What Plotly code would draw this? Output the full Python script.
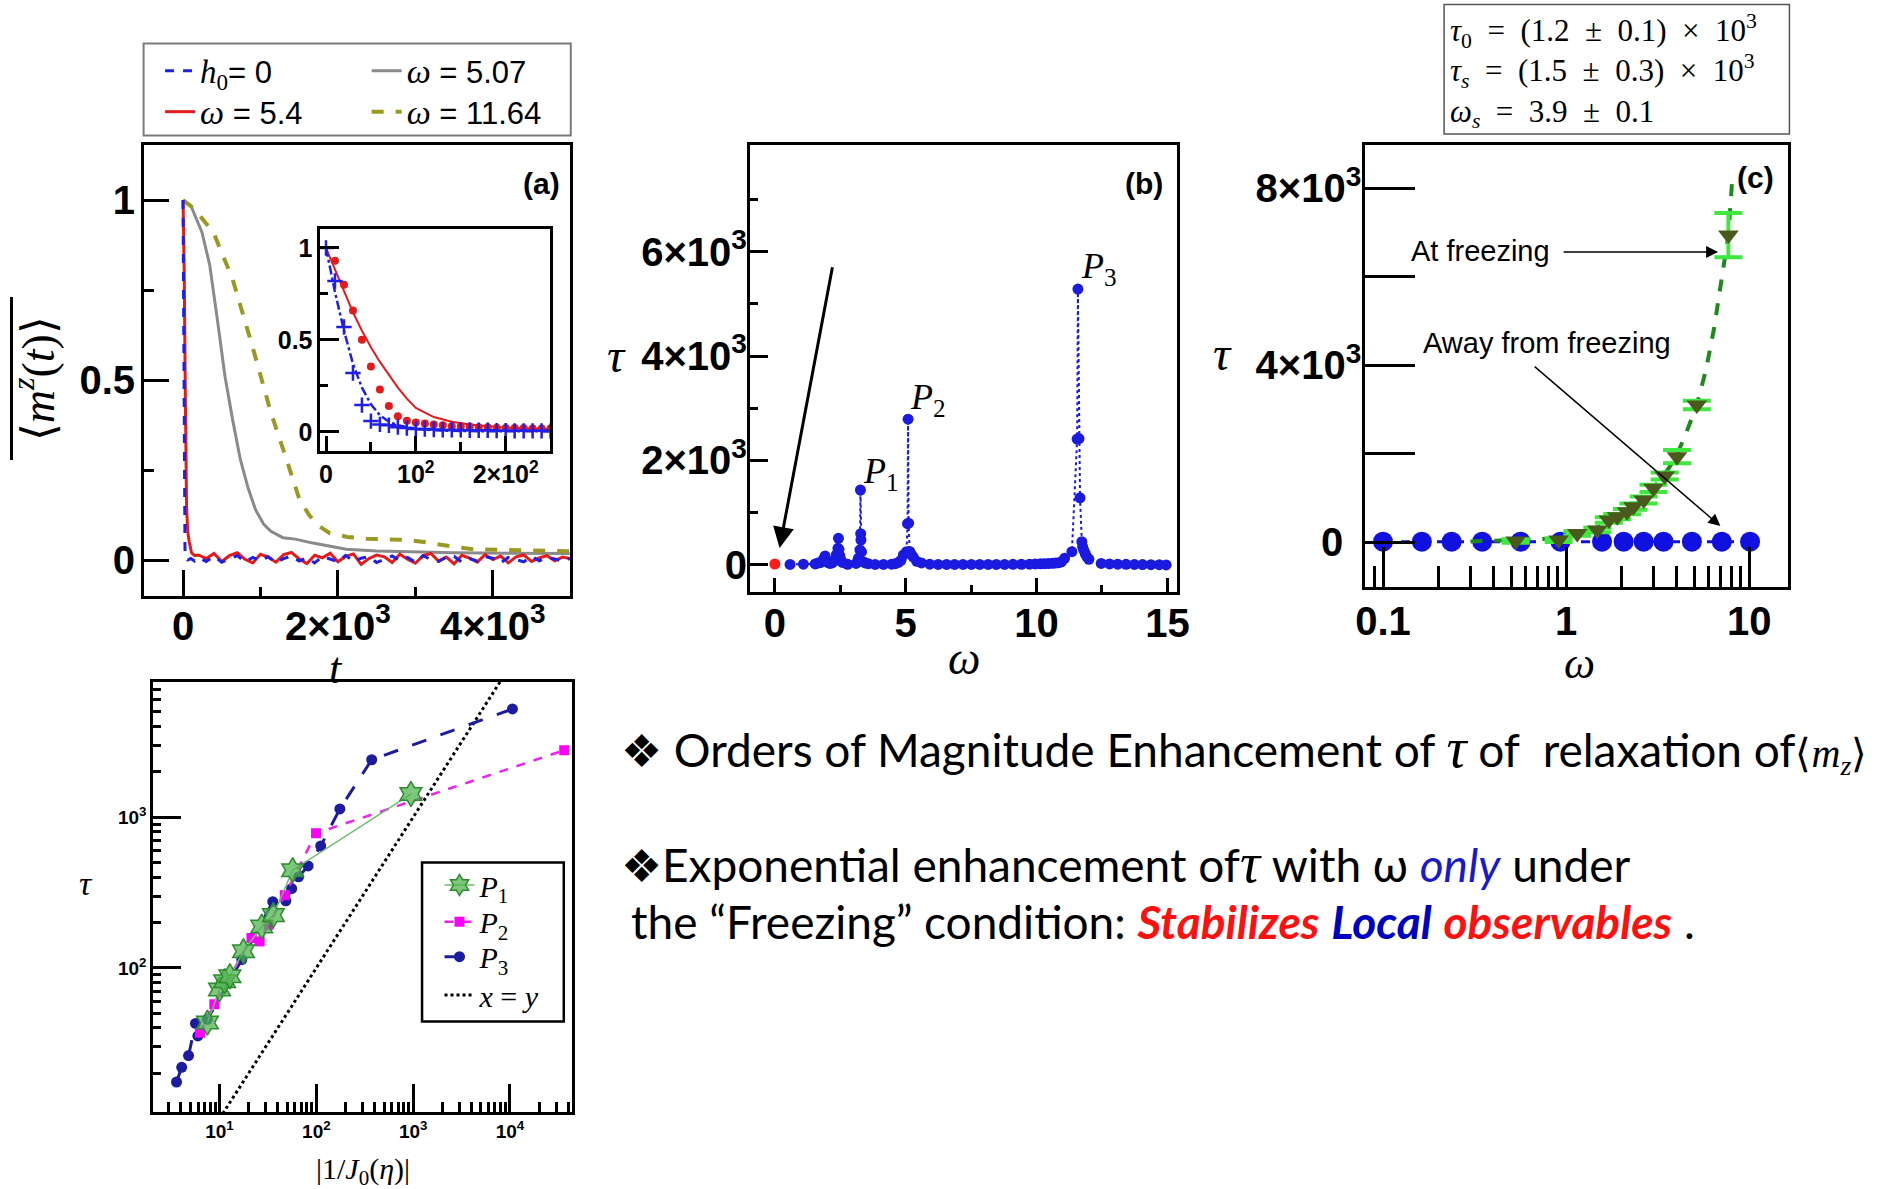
import plotly.graph_objects as go

W, H = 1880, 1189
# horizontal placement correction measured from earlier renders (content lands ~1% narrower, shifted right)
XA, XB = 6.65, 0.9902
def fx(x): return max(0.0, (x - XA) / XB)
def px(x): return fx(x) / W
def py(y): return 1 - y / H
def dx(l, r): return [px(l), px(r)]
def dy(t, b): return [1 - b / H, 1 - t / H]

# ---------------- Panel (a) data ----------------
t_h0 = [0, 8, 16, 25, 40, 60, 100, 150,
        200, 300, 400, 500, 600, 700, 800, 900, 1000, 1100, 1200, 1300, 1400, 1500, 1600, 1700,
        1800, 1900, 2000, 2100, 2200, 2300, 2400, 2500, 2600, 2700, 2800, 2900, 3000, 3100, 3200,
        3300, 3400, 3500, 3600, 3700, 3800, 3900, 4000, 4100, 4200, 4300, 4400, 4500, 4600, 4700,
        4800, 4900, 5000]
m_h0 = [1.0, 0.55, 0.15, 0.03, 0.005, 0.0, 0.004, -0.003,
        0.006, -0.004, 0.010, -0.006, 0.003, 0.012, -0.005, 0.007, -0.002, 0.009, -0.007, 0.004,
        0.011, -0.003, 0.006, -0.008, 0.010, 0.002, -0.005, 0.013, -0.004, 0.005, 0.009, -0.007,
        0.003, 0.011, -0.002, 0.007, -0.006, 0.012, 0.001, -0.004, 0.008, 0.010, -0.006, 0.004,
        -0.003, 0.009, 0.005, -0.008, 0.007, 0.002, -0.005, 0.010, -0.002, 0.006, 0.003, -0.004,
        0.005]
t_w54 = [0, 15, 30, 45, 60, 80, 110, 150,
         200, 300, 400, 500, 600, 700, 800, 900, 1000, 1100, 1200, 1300, 1400, 1500, 1600, 1700,
         1800, 1900, 2000, 2100, 2200, 2300, 2400, 2500, 2600, 2700, 2800, 2900, 3000, 3100, 3200,
         3300, 3400, 3500, 3600, 3700, 3800, 3900, 4000, 4100, 4200, 4300, 4400, 4500, 4600, 4700,
         4800, 4900, 5000]
m_w54 = [1.0, 0.8, 0.45, 0.15, 0.08, 0.05, 0.02, 0.012,
         0.014, 0.004, 0.018, -0.004, 0.012, 0.020, 0.002, -0.008, 0.016, 0.008, -0.006, 0.015,
         0.021, 0.003, -0.010, 0.013, 0.006, 0.019, -0.005, 0.010, 0.017, -0.012, 0.004, 0.014,
         0.009, -0.007, 0.016, 0.002, -0.009, 0.012, 0.018, -0.003, 0.008, -0.011, 0.013, 0.005,
         -0.006, 0.015, 0.001, 0.011, -0.008, 0.009, 0.014, -0.004, 0.006, 0.012, -0.002, 0.008,
         0.004]
t_w507 = [0, 100, 245, 344, 442, 542, 640, 739, 840, 936, 1040, 1134, 1290, 1450, 1677, 1800,
          1935, 2107, 2500, 2881, 3500, 4200, 5000]
m_w507 = [1.0, 0.985, 0.91, 0.82, 0.67, 0.51, 0.39, 0.28, 0.2, 0.14, 0.10, 0.08, 0.062, 0.058,
          0.047, 0.042, 0.037, 0.03, 0.025, 0.023, 0.02, 0.019, 0.018]
t_w1164 = [0, 146, 393, 640, 887, 1134, 1381, 1500, 1628, 1750, 1892, 2122, 2369, 2881, 3109,
           3312, 3550, 3742, 4200, 5000]
m_w1164 = [1.0, 0.975, 0.91, 0.78, 0.6, 0.41, 0.25, 0.17, 0.125, 0.095, 0.075, 0.064, 0.059,
           0.056, 0.05, 0.042, 0.035, 0.03, 0.027, 0.024]

# inset
t_in_dots = [10, 20, 30, 40, 50, 60, 70, 80, 90, 100, 110, 120, 130, 140, 150, 160, 170, 180,
             190, 200, 210, 220, 230, 240, 250]
m_in_dots = [0.93, 0.80, 0.66, 0.50, 0.355, 0.23, 0.14, 0.085, 0.06, 0.05, 0.045, 0.04, 0.035,
             0.03, 0.03, 0.028, 0.025, 0.025, 0.022, 0.02, 0.02, 0.02, 0.018, 0.018, 0.018]
t_in_cross = [0, 10, 20, 30, 40, 50, 60, 70, 80, 90, 100, 110, 120, 130, 140, 150, 160, 170,
              180, 190, 200, 210, 220, 230, 240, 250]
m_in_cross = [1.0, 0.82, 0.57, 0.32, 0.145, 0.058, 0.04, 0.035, 0.025, 0.02, 0.015, 0.015,
              0.012, 0.01, 0.01, 0.01, 0.008, 0.008, 0.008, 0.006, 0.006, 0.005, 0.005, 0.005,
              0.005, 0.004]
t_in_redfit = [0, 10, 20, 30, 40, 50, 60, 70, 80, 90, 100, 120, 140, 160, 200, 250]
m_in_redfit = [1.0, 0.88, 0.76, 0.65, 0.55, 0.46, 0.38, 0.31, 0.24, 0.18, 0.13, 0.08, 0.055,
               0.04, 0.022, 0.015]
t_in_bluefit = [0, 10, 20, 30, 40, 50, 60, 70, 80, 100, 130, 170, 250]
m_in_bluefit = [1.0, 0.76, 0.55, 0.37, 0.24, 0.15, 0.09, 0.055, 0.035, 0.015, 0.006, 0.003,
                0.002]

# ---------------- Panel (b) data ----------------
omega_b = [0.58, 1.09, 1.54, 1.65, 1.73, 1.8, 1.87, 1.92, 1.97, 2.05, 2.12, 2.2, 2.28, 2.35,
           2.41, 2.43, 2.45, 2.48, 2.52, 2.58, 2.78, 3.1, 3.19, 3.25, 3.27, 3.28, 3.29, 3.31,
           3.37, 3.45, 3.57, 3.83, 4.15, 4.46, 4.6, 4.72, 4.82, 4.91, 5.03, 5.07, 5.09, 5.11,
           5.15, 5.22, 5.29, 5.42, 5.6, 5.92, 6.24, 6.56, 6.87, 7.19, 7.51, 7.83, 8.15, 8.46,
           8.78, 9.1, 9.42, 9.73, 9.95, 10.15, 10.3, 10.45, 10.6, 10.72, 10.85, 10.95, 11.07,
           11.35, 11.55, 11.58, 11.62, 11.66, 11.73, 11.76, 11.8, 11.86, 11.93, 12.0, 12.47,
           12.79, 13.1, 13.42, 13.74, 14.05, 14.37, 14.69, 14.95]
tau_b = [10, 15, 20, 40, 45, 60, 120, 172, 90, 40, 30, 45, 90, 200,
         320, 510, 300, 180, 100, 50, 12, 30, 128, 287, 1435, 600, 478, 250,
         64, 40, 25, 10, 10, 15, 25, 50, 90, 191, 255, 790, 2790, 800,
         260, 200, 150, 70, 40, 15, 10, 10, 10, 10, 10, 10, 10, 10,
         10, 12, 14, 16, 20, 22, 25, 28, 32, 38, 45, 60, 128,
         255, 2410, 5280, 2420, 1285, 446, 350, 290, 220, 150, 110, 30,
         20, 15, 12, 10, 8, 6, 5, 2]
omega_b_red = [0.0]
tau_b_red = [19]

# ---------------- Panel (c) data ----------------
omega_c_away = [0.1, 0.163, 0.237, 0.348, 0.564, 0.931, 1.57, 2.06, 2.65, 3.40, 4.86, 7.08, 10.1]
tau_c_away = [15, 15, 15, 15, 15, 15, 15, 15, 15, 15, 15, 15, 15]
omega_c_frz = [0.53, 0.91, 1.15, 1.48, 1.71, 1.90, 2.15, 2.33, 2.65, 3.0, 3.45, 4.03, 5.17, 7.69]
tau_c_frz = [30, 50, 200, 280, 504, 579, 692, 805, 956, 1220, 1500, 1935, 3103, 6945]
err_c_frz = [40, 40, 50, 50, 60, 60, 60, 70, 80, 80, 80, 150, 95, 500]
omega_c_fit = [0.3, 0.5, 0.8, 1.0, 1.3, 1.6, 2.0, 2.4, 2.8, 3.2, 3.6, 4.0, 4.5, 5.17, 5.8, 6.4,
               7.0, 7.69, 8.04]
tau_c_fit = [20, 40, 80, 140, 250, 400, 620, 850, 1080, 1380, 1650, 1950, 2450, 3103, 3900,
             4800, 5800, 6945, 8113]

# ---------------- Panel (d) data ----------------
p1_x = [7.5, 10, 11.3, 12.8, 17.7, 27.3, 36, 57, 948]
p1_y = [43.4, 72, 81.6, 88, 129, 188, 224, 445, 1425]
p2_x = [6.28, 8.84, 21.4, 26, 32.1, 47.2, 99.3, 36300]
p2_y = [37.2, 57.3, 158, 150, 193, 304, 783, 2780]
p3_x = [3.6, 4.07, 4.79, 5.65, 5.98, 7.5, 17.0, 35.5, 48.4, 55.6, 65.5, 82.3, 111, 175, 373, 10600]
p3_y = [17.5, 21.9, 26.2, 42.8, 35.4, 45.6, 113.6, 275, 279, 336, 402, 475, 644, 1135, 2405, 5225]
xy_x = [10, 10000]
xy_y = [10, 10000]

SERIF = "Liberation Serif"
SANS = "Liberation Sans"
OM = "<span style='font-family:Liberation Serif;font-size:34px'><i>ω</i></span>"

fig = go.Figure()

# ---- panel (a)
fig.add_trace(go.Scatter(x=t_w507, y=m_w507, mode="lines", line=dict(color="#8a8a8a", width=3),
                         name=OM + " = 5.07", xaxis="x", yaxis="y", legend="legend2"))
fig.add_trace(go.Scatter(x=t_w1164, y=m_w1164, mode="lines",
                         line=dict(color="#9a9a22", width=4, dash="dash"),
                         name=OM + " = 11.64", xaxis="x", yaxis="y", legend="legend4"))
fig.add_trace(go.Scatter(x=t_w54, y=m_w54, mode="lines", line=dict(color="#e41a1c", width=3),
                         name=OM + " = 5.4", xaxis="x", yaxis="y", legend="legend3"))
fig.add_trace(go.Scatter(x=t_h0, y=m_h0, mode="lines", line=dict(color="#1f1fe6", width=3, dash="dash"),
                         name="<span style='font-family:Liberation Serif;font-size:33px'><i>h</i><sub>0</sub></span>= 0",
                         xaxis="x", yaxis="y", legend="legend"))
# inset
fig.add_trace(go.Scatter(x=t_in_redfit, y=m_in_redfit, mode="lines", line=dict(color="#e41a1c", width=2),
                         xaxis="x5", yaxis="y5", showlegend=False))
fig.add_trace(go.Scatter(x=t_in_bluefit, y=m_in_bluefit, mode="lines",
                         line=dict(color="#1f1fe6", width=2.5, dash="dashdot"),
                         xaxis="x5", yaxis="y5", showlegend=False))
fig.add_trace(go.Scatter(x=t_in_dots, y=m_in_dots, mode="markers",
                         marker=dict(color="#e41a1c", size=8), xaxis="x5", yaxis="y5", showlegend=False))
fig.add_trace(go.Scatter(x=t_in_cross, y=m_in_cross, mode="markers",
                         marker=dict(symbol="cross-thin", size=11, line=dict(color="#1f1fe6", width=2.5)),
                         xaxis="x5", yaxis="y5", showlegend=False))

# ---- panel (b)
fig.add_trace(go.Scatter(x=omega_b, y=tau_b, mode="lines+markers",
                         line=dict(color="#1a1ae0", width=2, dash="dot"),
                         marker=dict(color="#1a1ae0", size=11),
                         xaxis="x2", yaxis="y2", showlegend=False))
fig.add_trace(go.Scatter(x=omega_b_red, y=tau_b_red, mode="markers",
                         marker=dict(color="#ff1a1a", size=11),
                         xaxis="x2", yaxis="y2", showlegend=False))

# ---- panel (c)
fig.add_trace(go.Scatter(x=omega_c_away, y=tau_c_away, mode="lines+markers",
                         line=dict(color="#1010d8", width=3, dash="dash"),
                         marker=dict(color="#1010e0", size=20),
                         xaxis="x3", yaxis="y3", showlegend=False))
fig.add_trace(go.Scatter(x=omega_c_fit, y=tau_c_fit, mode="lines",
                         line=dict(color="#1e8a1e", width=4, dash="dash"),
                         xaxis="x3", yaxis="y3", showlegend=False))
fig.add_trace(go.Scatter(x=omega_c_frz, y=tau_c_frz, mode="markers",
                         marker=dict(symbol="triangle-down", color="#4a5a1c", size=18),
                         error_y=dict(type="data", array=err_c_frz, visible=True,
                                      color="#3ee83e", thickness=4, width=14),
                         xaxis="x3", yaxis="y3", showlegend=False))

# ---- panel (d)
fig.add_trace(go.Scatter(x=xy_x, y=xy_y, mode="lines", line=dict(color="black", width=3, dash="dot"),
                         name="<i>x</i> = <i>y</i>", xaxis="x4", yaxis="y4", legend="legend8"))
fig.add_trace(go.Scatter(x=p3_x, y=p3_y, mode="lines+markers",
                         line=dict(color="#1c1ca0", width=3, dash="longdash"),
                         marker=dict(color="#1c1ca0", size=11),
                         name="<i>P</i><sub>3</sub>", xaxis="x4", yaxis="y4", legend="legend7"))
fig.add_trace(go.Scatter(x=p2_x, y=p2_y, mode="lines+markers",
                         line=dict(color="#ee22ee", width=2.5, dash="dash"),
                         marker=dict(color="#ff00ff", size=10, symbol="square"),
                         name="<i>P</i><sub>2</sub>", xaxis="x4", yaxis="y4", legend="legend6"))
fig.add_trace(go.Scatter(x=p1_x, y=p1_y, mode="lines+markers",
                         line=dict(color="#6cbf6c", width=1.5),
                         marker=dict(color="rgba(80,180,80,0.75)", size=19, symbol="hexagram",
                                     line=dict(color="#2e8b2e", width=1.5)),
                         name="<i>P</i><sub>1</sub>", xaxis="x4", yaxis="y4", legend="legend5"))

TF = dict(family=SANS, size=40, color="black", weight="bold")

def axis(domain, anchor, rng, tickvals, ticktext, ticklen, minor_vals, minor_len, lw=3,
         font=TF, typ="linear", tw=3, standoff=0):
    d = dict(domain=domain, anchor=anchor, range=rng, type=typ, showline=True, linecolor="black",
             linewidth=lw, mirror=True, ticks="inside", tickcolor="black", ticklen=ticklen,
             tickwidth=tw, tickvals=tickvals, ticktext=ticktext, tickfont=font,
             showgrid=False, zeroline=False, tickangle=0, ticklabelstandoff=standoff)
    if minor_vals:
        d["minor"] = dict(tickvals=minor_vals, ticks="inside", ticklen=minor_len,
                          tickcolor="black", tickwidth=tw, showgrid=False)
    return d

SMALLF = dict(family=SANS, size=19, color="black", weight="bold")
INSF = dict(family=SANS, size=25, color="black", weight="bold")

layout = dict(
    width=W, height=H, margin=dict(l=0, r=0, t=0, b=0),
    paper_bgcolor="white", plot_bgcolor="rgba(0,0,0,0)",
    font=dict(family=SANS, color="black"),
    xaxis=axis(dx(141, 567.5), "y", [-503, 4994], [0, 2000, 4000],
               ["0", "2×10<sup>3</sup>", "4×10<sup>3</sup>"], 26, [1000, 3000], 9, standoff=-7),
    yaxis=axis(dy(145, 596), "x", [-0.1, 1.153], [0, 0.5, 1], ["0", "0.5", "1"], 25,
               [0.25, 0.75], 10, standoff=-2),
    xaxis2=axis(dx(748, 1176), "y2", [-0.953, 15.37], [0, 5, 10, 15], ["0", "5", "10", "15"], 14,
                [2.5, 7.5, 12.5], 7, standoff=-6),
    yaxis2=axis(dy(144.5, 592), "x2", [-517, 8048], [0, 2000, 4000, 6000],
                ["0", "2×10<sup>3</sup>", "4×10<sup>3</sup>", "6×10<sup>3</sup>"], 18,
                [1000, 3000, 5000, 7000], 8, standoff=-8),
    xaxis3=axis(dx(1364.5, 1788), "y3", [-1.097, 1.211], [0.1, 1, 10], ["0.1", "1", "10"], 40,
                [0.09, 0.2, 0.3, 0.4, 0.5, 0.6, 0.7, 0.8, 0.9, 2, 3, 4, 5, 6, 7, 8, 9], 21,
                typ="log", standoff=-3),
    yaxis3=axis(dy(144.5, 586.7), "x3", [-1003, 8992], [0, 2000, 4000, 6000, 8000],
                ["0\u2005\u2009", "", "4×10<sup>3</sup>", "", "8×10<sup>3</sup>"], 50, None, 0,
                standoff=-7),
    xaxis4=axis(dx(150, 569.5), "y4", [0.314, 4.638], [10, 100, 1000, 10000],
                ["10<sup>1</sup>", "10<sup>2</sup>", "10<sup>3</sup>", "10<sup>4</sup>"], 28,
                [3, 4, 5, 6, 7, 8, 9, 20, 30, 40, 50, 60, 70, 80, 90, 200, 300, 400, 500, 600,
                 700, 800, 900, 2000, 3000, 4000, 5000, 6000, 7000, 8000, 9000, 20000, 30000,
                 40000], 10, lw=2.5, font=SMALLF, typ="log", tw=2.5),
    yaxis4=axis(dy(682, 1112), "x4", [1.044, 3.897], [100, 1000],
                ["10<sup>2</sup>", "10<sup>3</sup>"], 28,
                [20, 30, 40, 50, 60, 70, 80, 90, 200, 300, 400, 500, 600, 700, 800, 900, 2000,
                 3000, 4000, 5000, 6000, 7000], 8, lw=2.5, font=SMALLF, typ="log", tw=2.5),
    xaxis5=axis(dx(317.5, 548), "y5", [-6.4, 249.7], [0, 100, 200],
                ["0", "10<sup>2</sup>", "2×10<sup>2</sup>"], 15, [50, 150], 9, lw=2.5,
                font=INSF, tw=2.5),
    yaxis5=axis(dy(228.5, 450.5), "x5", [-0.102, 1.106], [0, 0.5, 1], ["0", "0.5", "1"], 19,
                [0.25, 0.75], 8, lw=2.5, font=INSF, tw=2.5),
)

def leg(x, y, size, family=SANS):
    return dict(x=px(x), y=py(y), xanchor="left", yanchor="middle", bgcolor="rgba(0,0,0,0)",
                borderwidth=0, font=dict(family=family, size=size, color="black"),
                orientation="v")

layout["legend"] = leg(157, 71, 31)
layout["legend2"] = leg(364, 71, 31)
layout["legend3"] = leg(157, 112, 31)
layout["legend4"] = leg(364, 112, 31)
layout["legend5"] = leg(437, 885, 30, SERIF)
layout["legend6"] = leg(437, 921.7, 30, SERIF)
layout["legend7"] = leg(437, 956.7, 30, SERIF)
layout["legend8"] = leg(437, 995, 30, SERIF)

fig.update_layout(**layout)

shapes = [
    dict(type="rect", xref="paper", yref="paper", x0=px(140.5), x1=px(568.5), y0=py(43.5), y1=py(135.5),
         line=dict(color="#7a7a7a", width=2)),
    dict(type="rect", xref="paper", yref="paper", x0=px(1443.5), x1=px(1789.5), y0=py(4.5), y1=py(134),
         line=dict(color="#555555", width=1.5)),
    dict(type="rect", xref="paper", yref="paper", x0=px(419.5), x1=px(561.5), y0=py(862.5), y1=py(1021.5),
         line=dict(color="black", width=2.5)),
    dict(type="line", xref="paper", yref="paper", x0=0.0008, x1=0.0008, y0=py(297), y1=py(460),
         line=dict(color="black", width=3)),
]
fig.update_layout(shapes=shapes)

ann = []
def txt(x, y, text, size, family=SANS, color="black", xanchor="center", angle=0, weight="normal",
        align="center"):
    ann.append(dict(x=px(x), y=py(y), xref="paper", yref="paper", text=text, showarrow=False,
                    xanchor=xanchor, yanchor="middle", textangle=angle, align=align,
                    font=dict(family=family, size=size, color=color, weight=weight)))

# axis titles
txt(31, 379, "⟨<i>m</i><sup><i>z</i></sup>(<i>t</i>)⟩", 46, SERIF, angle=-90)
txt(333, 668, "<i>t</i>", 44, SERIF)
txt(614, 356, "<i>τ</i>", 48, SERIF)
txt(962, 658, "<i>ω</i>", 46, SERIF)
txt(1221, 354, "<i>τ</i>", 48, SERIF)
txt(1579, 663, "<i>ω</i>", 44, SERIF)
txt(83, 883, "<i>τ</i>", 34, SERIF)
txt(360, 1171, "|1/<i>J</i><sub>0</sub>(<i>η</i>)|", 30, SERIF)
# panel labels
txt(539, 183, "(a)", 30, weight="bold")
txt(1143, 183, "(b)", 30, weight="bold")
txt(1756, 178, "(c)", 30, weight="bold")
# peak labels
txt(879, 473, "<i>P</i><sub>1</sub>", 36, SERIF)
txt(926, 400, "<i>P</i><sub>2</sub>", 36, SERIF)
txt(1098, 269, "<i>P</i><sub>3</sub>", 36, SERIF)
# panel (c) parameter box (one multi-line text)
S = "\u2002"
box_lines = [
    "<i>τ</i><sub>0</sub>" + S + "=" + S + "(1.2" + S + "±" + S + "0.1)" + S + "×" + S + "10<sup>3</sup>",
    "<i>τ</i><sub><i>s</i></sub>" + S + "=" + S + "(1.5" + S + "±" + S + "0.3)" + S + "×" + S + "10<sup>3</sup>",
    "<i>ω</i><sub><i>s</i></sub>" + S + "=" + S + "3.9" + S + "±" + S + "0.1",
]
txt(1447, 71, "<br>".join(box_lines), 31, SERIF, xanchor="left", align="left")
txt(1480, 251, "At freezing", 29)
txt(1547, 343, "Away from freezing", 29)

BODY = "Lato"
tau_span = "<span style='font-family:Liberation Serif;font-size:56px'><i>τ</i></span>"
txt(617, 749, "❖ Orders of Magnitude Enhancement of " + tau_span +
    " of  relaxation of<span style='font-family:Liberation Serif;font-size:40px'>⟨<i>m</i><sub><i>z</i></sub>⟩</span>",
    46, BODY, xanchor="left")
txt(617, 863, "❖Exponential enhancement of" + tau_span +
    " with ω <span style='color:#1a1ac8'><i>only</i></span> under", 46, BODY, xanchor="left")
txt(627, 921, "the “Freezing” condition: <span style='color:#ff1010'><b><i>Stabilizes</i></b></span> "
    "<span style='color:#0000c0'><b><i>Local</i></b></span> "
    "<span style='color:#ff1010'><b><i>observables</i></b></span> .", 46, BODY, xanchor="left")

# arrows
ann.append(dict(x=0.18, y=325, ax=2.21, ay=5728, xref="x2", yref="y2", axref="x2", ayref="y2",
                text="", showarrow=True, arrowhead=2, arrowsize=1.4, arrowwidth=3, arrowcolor="black"))
ann.append(dict(x=0.83, y=6565, ax=-0.022, ay=6565, xref="x3", yref="y3", axref="x3", ayref="y3",
                text="", showarrow=True, arrowhead=2, arrowsize=1.6, arrowwidth=1.5, arrowcolor="black"))
ann.append(dict(x=0.842, y=368, ax=-0.18, ay=4000, xref="x3", yref="y3", axref="x3", ayref="y3",
                text="", showarrow=True, arrowhead=2, arrowsize=1.6, arrowwidth=1.5, arrowcolor="black"))

fig.update_layout(annotations=ann)

fig.write_html(
    "out.html", config={"displayModeBar": False},
    post_script=("document.documentElement.style.margin='0';document.body.style.margin='0';"
                 "document.body.style.padding='0';document.documentElement.style.overflow='hidden';"
                 "document.body.style.overflow='hidden';"))
